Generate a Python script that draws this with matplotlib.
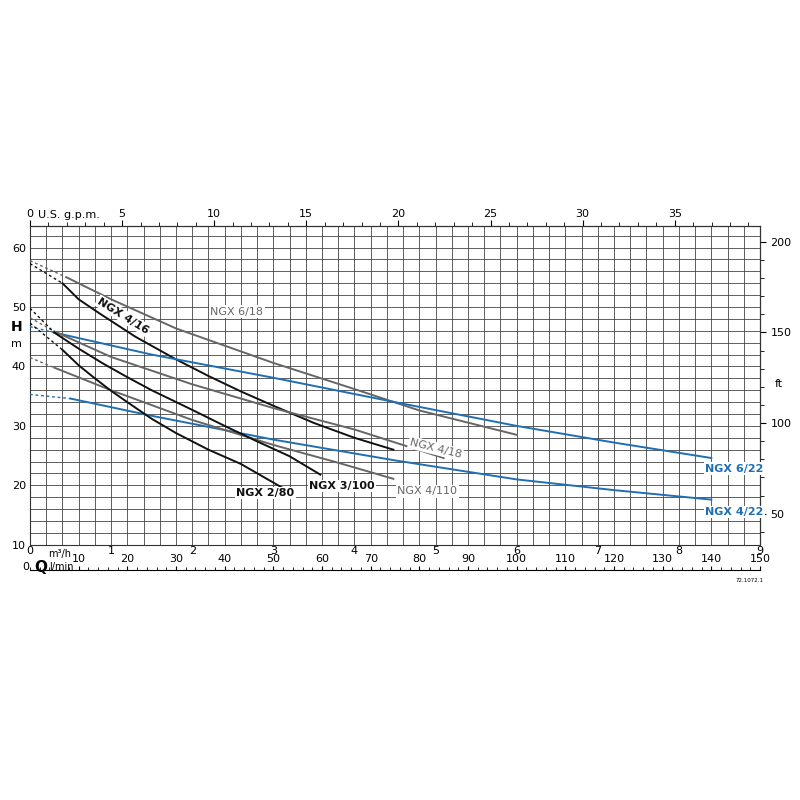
import numpy as np
import matplotlib.pyplot as plt

# Pump curves: flow Q in m3/h, head H in m
curves = {
    'NGX 6/18':  ([0.45, 1.0, 1.8, 3.0, 4.0, 4.8, 6.0], [55.0, 51.3, 46.4, 40.6, 36.2, 32.6, 28.5]),
    'NGX 4/16':  ([0.4, 0.6, 0.86, 1.3, 1.8, 2.2, 2.6, 3.0, 3.5, 4.0, 4.48],
                  [54.0, 51.3, 48.9, 45.0, 41.2, 38.4, 35.8, 33.4, 30.5, 28.0, 26.0]),
    'NGX 6/22':  ([0.3, 1.5, 3.0, 4.5, 6.0, 7.2, 8.4], [45.7, 42.0, 38.1, 34.0, 30.0, 27.2, 24.6]),
    'NGX 4/22':  ([0.5, 1.5, 3.0, 4.5, 6.0, 7.2, 8.4], [34.6, 31.7, 27.7, 24.2, 21.0, 19.2, 17.6]),
    'NGX 4/18':  ([0.3, 1.0, 2.0, 3.0, 4.0, 5.1], [45.9, 41.6, 37.0, 33.0, 29.4, 24.6]),
    'NGX 4/110': ([0.3, 1.0, 2.0, 3.0, 3.8, 4.48], [39.8, 36.0, 31.0, 26.8, 23.8, 21.1]),
    'NGX 3/100': ([0.3, 0.6, 0.9, 1.2, 1.5, 2.0, 2.4, 2.8, 3.2, 3.58],
                  [45.7, 43.0, 40.5, 38.2, 36.0, 32.7, 30.0, 27.4, 24.9, 21.8]),
    'NGX 2/80':  ([0.4, 0.6, 0.8, 1.0, 1.2, 1.5, 1.8, 2.2, 2.6, 3.2],
                  [42.8, 40.2, 38.0, 35.9, 34.0, 31.2, 28.8, 26.0, 23.6, 18.9]),
}
# dashed extension to Q=0 (shut-off head)
shutoff = {'NGX 6/18': 57.8, 'NGX 4/16': 57.3, 'NGX 6/22': 46.7, 'NGX 4/22': 35.3,
           'NGX 4/18': 48.2, 'NGX 4/110': 41.5, 'NGX 3/100': 49.8, 'NGX 2/80': 47.3}
colors = {'NGX 6/18': '#666666', 'NGX 4/16': '#111111', 'NGX 6/22': '#1f6fb2',
          'NGX 4/22': '#1f6fb2', 'NGX 4/18': '#666666', 'NGX 4/110': '#666666',
          'NGX 3/100': '#111111', 'NGX 2/80': '#111111'}
labels = [('NGX 6/18', 2.55, 49.2, 0, '#666666', 'normal'),
          ('NGX 4/16', 1.15, 48.5, -32, '#111111', 'bold'),
          ('NGX 4/18', 5.0, 26.2, -14, '#666666', 'normal'),
          ('NGX 4/110', 4.9, 19.0, 0, '#666666', 'normal'),
          ('NGX 3/100', 3.85, 19.9, 0, '#111111', 'bold'),
          ('NGX 2/80', 2.9, 18.7, 0, '#111111', 'bold'),
          ('NGX 6/22', 8.68, 22.8, 0, '#1f6fb2', 'bold'),
          ('NGX 4/22', 8.68, 15.5, 0, '#1f6fb2', 'bold')]

fig = plt.figure(figsize=(8, 8), dpi=100)
ax = fig.add_axes([0.0375, 0.319, 0.9125, 0.399])
ax.set_xlim(0, 9)
ax.set_ylim(10, 63.7)
for q in np.arange(0.2, 9, 0.2):
    ax.axvline(q, color='#444444', lw=0.6, zorder=0)
for h in np.arange(12, 63.7, 2):
    ax.axhline(h, color='#444444', lw=0.6, zorder=0)
for s in ax.spines.values():
    s.set_color('#333333')

for name, (q, h) in curves.items():
    c = colors[name]
    ax.plot(q, h, color=c, lw=1.4, zorder=3)
    ax.plot([0, q[0]], [shutoff[name], h[0]], color=c, lw=1.0, ls=(0, (2, 2)), zorder=3)

for t, x, y, rot, c, w in labels:
    ax.text(x, y, t, color=c, fontsize=8, fontweight=w, rotation=rot, ha='center', va='center',
            bbox=dict(facecolor='white', edgecolor='none', pad=1), zorder=4)

ax.set_yticks([10, 20, 30, 40, 50, 60])
ax.set_xticks(range(10))
ax.tick_params(axis='y', length=0, labelsize=8, pad=3)
ax.tick_params(axis='x', length=0, labelsize=8, pad=1)
ax.text(-0.17, 46.0, 'H', fontsize=10, fontweight='bold', ha='center')
ax.text(-0.17, 43.3, 'm', fontsize=8, ha='center')
ax.text(0.22, 8.4, 'm³/h', fontsize=7, va='center')

# l/min axis
sec = ax.secondary_xaxis(-0.08, functions=(lambda x: x * 1000 / 60, lambda l: l * 60 / 1000))
sec.set_xticks(np.arange(10, 151, 10))
sec.set_xticks(np.arange(0, 151, 2), minor=True)
sec.tick_params(axis='x', direction='in', length=3, labelsize=8, pad=-12)
sec.tick_params(axis='x', which='minor', direction='in', length=2)
ax.text(-0.05, 6.2, '0', fontsize=8, ha='center', va='center')
ax.text(0.13, 6.2, 'Q', fontsize=11, fontweight='bold', ha='center', va='center')
ax.text(0.23, 6.2, 'l/min', fontsize=7, va='center')

# U.S. g.p.m. axis
top = ax.secondary_xaxis('top', functions=(lambda x: x / 0.2271, lambda g: g * 0.2271))
top.set_xticks(np.arange(0, 36, 5))
top.set_xticks(np.arange(0, 40, 1), minor=True)
top.tick_params(axis='x', length=4, labelsize=8, pad=1)
top.tick_params(axis='x', which='minor', length=3)
ax.text(0.1, 64.6, 'U.S. g.p.m.', fontsize=8, va='bottom')

# feet axis
right = ax.secondary_yaxis('right', functions=(lambda m: m / 0.3048, lambda f: f * 0.3048))
right.set_yticks([50, 100, 150, 200])
right.set_yticks(np.arange(40, 210, 10), minor=True)
right.tick_params(axis='y', length=4, labelsize=8)
right.tick_params(axis='y', which='minor', length=3)
ax.text(9.18, 37.0, 'ft', fontsize=8, va='center')

fig.text(0.955, 0.272, '72.1072.1', fontsize=4, ha='right')
fig.savefig('out.png', dpi=100)
